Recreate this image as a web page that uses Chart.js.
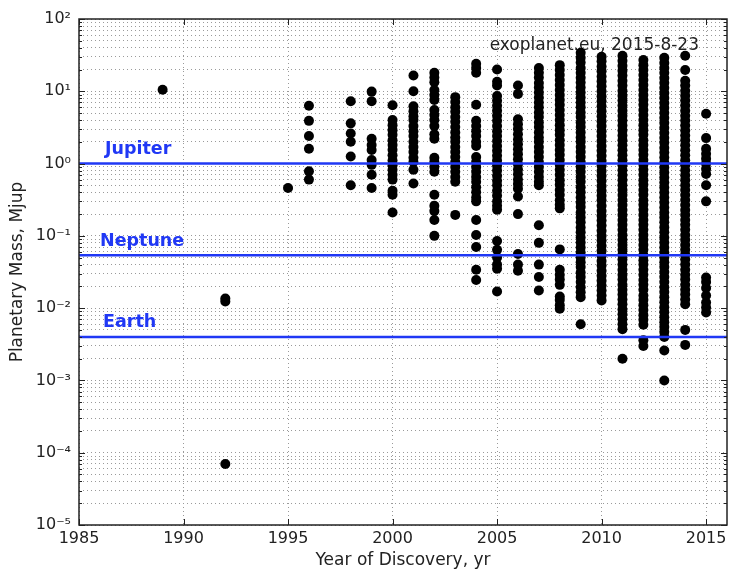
<!DOCTYPE html>
<html>
<head>
<meta charset="utf-8">
<script src="https://cdn.jsdelivr.net/npm/chart.js@4.4.1/dist/chart.umd.min.js"></script>
<style>
  html, body { margin: 0; padding: 0; background: #fff; }
  #wrap { width: 732px; height: 580px; }
</style>
</head>
<body>
<div id="wrap"><canvas id="exo" width="732" height="580"></canvas></div>
<script>
// Planet masses (Mjup) per discovery year
const mass1989 = [10.5];
const mass1992 = [0.0136, 0.0124, 0.00007];
const mass1995 = [0.46];
const mass1996 = [6.3, 3.9, 2.4, 1.6, 0.78, 0.6];
const mass1998 = [7.3, 3.6, 2.6, 2.0, 1.25, 0.5];
const mass1999 = [9.9, 7.3, 2.2, 1.8, 1.54, 1.12, 0.96, 0.7, 0.46];
const mass2000 = [6.4, 4.0, 3.4, 2.9, 2.5, 2.1, 1.8, 1.55, 1.3, 1.1, 0.95, 0.82, 0.7, 0.6, 0.42, 0.37, 0.21];
const mass2001 = [16.5, 10, 6.2, 5.3, 4.5, 4.0, 3.3, 2.8, 2.4, 2.0, 1.7, 1.45, 1.2, 1.05, 0.82, 0.53];
const mass2002 = [18, 15.5, 13.3, 10.4, 8.9, 7.6, 5.5, 4.7, 4.0, 3.3, 2.55, 2.2, 1.2, 1.05, 0.9, 0.77, 0.37, 0.26, 0.22, 0.166, 0.1];
const mass2003 = [8.3, 7.1, 6.0, 5.2, 4.4, 3.8, 3.2, 2.7, 2.3, 2.0, 1.7, 1.45, 1.23, 1.05, 0.9, 0.77, 0.65, 0.56, 0.195];
const mass2004 = [24, 21, 18, 6.5, 3.9, 3.3, 2.8, 2.4, 2.0, 1.75, 1.23, 1.05, 0.9, 0.77, 0.65, 0.56, 0.47, 0.4, 0.34, 0.3, 0.166, 0.103, 0.07, 0.034, 0.0245];
const mass2005 = [20, 13.5, 12, 8.6, 7.4, 6.3, 5.4, 4.6, 3.9, 3.3, 2.8, 2.4, 2.05, 1.75, 1.5, 1.28, 1.1, 0.93, 0.8, 0.68, 0.58, 0.5, 0.42, 0.36, 0.3, 0.26, 0.23, 0.085, 0.064, 0.05, 0.04, 0.035, 0.017];
const mass2006 = [12, 9.2, 4.1, 3.5, 3.0, 2.55, 2.15, 1.85, 1.58, 1.35, 1.15, 0.98, 0.83, 0.71, 0.6, 0.52, 0.45, 0.35, 0.2, 0.056, 0.04, 0.033];
const mass2007 = [21, 18, 15.5, 13, 11.3, 9.6, 8.2, 7.0, 6.0, 5.1, 4.4, 3.7, 3.2, 2.7, 2.3, 2.0, 1.7, 1.45, 1.23, 1.05, 0.9, 0.77, 0.65, 0.56, 0.5, 0.14, 0.08, 0.04, 0.027, 0.0175];
const mass2008 = [23, 19.7, 16.8, 14.3, 12.2, 10.4, 8.9, 7.6, 6.5, 5.5, 4.7, 4.0, 3.4, 2.9, 2.5, 2.1, 1.8, 1.54, 1.32, 1.12, 0.96, 0.82, 0.7, 0.59, 0.51, 0.43, 0.37, 0.31, 0.27, 0.24, 0.065, 0.034, 0.029, 0.025, 0.021, 0.0145, 0.013, 0.011, 0.0098];
const mass2009 = [34, 29, 25, 21, 18, 15.4, 13.2, 11.3, 9.6, 8.2, 7.0, 6.0, 5.1, 4.4, 3.7, 3.2, 2.7, 2.3, 2.0, 1.7, 1.45, 1.23, 1.05, 0.9, 0.77, 0.65, 0.56, 0.47, 0.4, 0.34, 0.29, 0.25, 0.21, 0.18, 0.154, 0.13, 0.112, 0.095, 0.081, 0.069, 0.059, 0.05, 0.043, 0.037, 0.031, 0.027, 0.023, 0.0195, 0.0166, 0.0142, 0.006];
const mass2010 = [30, 26, 22, 19, 16, 13.7, 11.7, 10, 8.5, 7.3, 6.2, 5.3, 4.5, 3.85, 3.3, 2.8, 2.4, 2.05, 1.75, 1.5, 1.28, 1.09, 0.93, 0.79, 0.68, 0.58, 0.49, 0.42, 0.36, 0.31, 0.26, 0.22, 0.19, 0.163, 0.139, 0.118, 0.1, 0.086, 0.073, 0.062, 0.053, 0.045, 0.039, 0.033, 0.028, 0.024, 0.0205, 0.0175, 0.015, 0.0128];
const mass2011 = [31, 26.5, 22.6, 19.3, 16.5, 14, 12, 10.2, 8.7, 7.45, 6.35, 5.4, 4.6, 3.95, 3.37, 2.87, 2.45, 2.1, 1.79, 1.53, 1.3, 1.11, 0.95, 0.81, 0.69, 0.59, 0.5, 0.43, 0.367, 0.313, 0.267, 0.228, 0.195, 0.166, 0.142, 0.121, 0.103, 0.088, 0.075, 0.064, 0.055, 0.047, 0.04, 0.034, 0.029, 0.025, 0.021, 0.018, 0.0155, 0.0132, 0.0113, 0.0096, 0.0082, 0.007, 0.006, 0.0051, 0.002];
const mass2012 = [27, 23, 19.7, 16.8, 14.3, 12.2, 10.4, 8.9, 7.6, 6.5, 5.5, 4.7, 4.0, 3.4, 2.9, 2.5, 2.1, 1.8, 1.54, 1.32, 1.12, 0.96, 0.82, 0.7, 0.59, 0.51, 0.43, 0.37, 0.31, 0.27, 0.23, 0.195, 0.166, 0.142, 0.121, 0.103, 0.088, 0.075, 0.064, 0.054, 0.046, 0.04, 0.034, 0.029, 0.0245, 0.021, 0.018, 0.015, 0.013, 0.011, 0.0094, 0.008, 0.0069, 0.0059, 0.0036, 0.003];
const mass2013 = [29, 24.7, 21, 18, 15.3, 13.1, 11.2, 9.5, 8.1, 6.9, 5.9, 5.05, 4.3, 3.67, 3.13, 2.67, 2.28, 1.95, 1.66, 1.42, 1.21, 1.03, 0.88, 0.75, 0.64, 0.546, 0.466, 0.398, 0.34, 0.29, 0.247, 0.211, 0.18, 0.154, 0.131, 0.112, 0.095, 0.081, 0.069, 0.059, 0.05, 0.043, 0.037, 0.0315, 0.027, 0.023, 0.0195, 0.0167, 0.0142, 0.0121, 0.0103, 0.0088, 0.0075, 0.0064, 0.0055, 0.0047, 0.004, 0.0026, 0.001];
const mass2014 = [31, 19.7, 14, 12, 10.2, 8.7, 7.45, 6.35, 5.4, 4.6, 3.95, 3.37, 2.87, 2.45, 2.1, 1.79, 1.53, 1.3, 1.11, 0.95, 0.81, 0.69, 0.59, 0.5, 0.43, 0.367, 0.313, 0.267, 0.228, 0.195, 0.166, 0.142, 0.121, 0.103, 0.088, 0.075, 0.064, 0.055, 0.047, 0.04, 0.034, 0.029, 0.025, 0.021, 0.018, 0.0155, 0.0132, 0.0113, 0.005, 0.0031];
const mass2015 = [4.9, 2.25, 1.6, 1.37, 1.17, 1.0, 0.85, 0.72, 0.5, 0.3, 0.0265, 0.023, 0.019, 0.015, 0.012, 0.0102, 0.0087];

const discoveryYears = [1989, 1992, 1995, 1996, 1998, 1999, 2000, 2001, 2002, 2003, 2004, 2005, 2006, 2007, 2008, 2009, 2010, 2011, 2012, 2013, 2014, 2015];
const massColumns = [mass1989, mass1992, mass1995, mass1996, mass1998, mass1999, mass2000, mass2001, mass2002, mass2003, mass2004, mass2005, mass2006, mass2007, mass2008, mass2009, mass2010, mass2011, mass2012, mass2013, mass2014, mass2015];

// reference planets
const refNames = ['Jupiter', 'Neptune', 'Earth'];
const refMasses = [1, 0.054, 0.004];

// axes
const xTicks = [1985, 1990, 1995, 2000, 2005, 2010, 2015];
const yMajorExps = [-5, -4, -3, -2, -1, 0, 1, 2];
const yMinorSteps = [2, 3, 4, 5, 6, 7, 8, 9];
const sourceNote = 'exoplanet.eu, 2015-8-23';

const BLUE = 'rgb(32,56,245)';
const FONT = '"DejaVu Sans", Verdana, sans-serif';

const planetPoints = [];
massColumns.forEach((col, i) => {
    col.forEach(m => planetPoints.push({ x: discoveryYears[i], y: m }));
});

const yTickValues = [];
yMajorExps.forEach(e => {
    yTickValues.push(Math.pow(10, e));
    if (e < 2) yMinorSteps.forEach(s => yTickValues.push(s * Math.pow(10, e)));
});

const SUP = { '-': '\u207B', '0': '\u2070', '1': '\u00B9', '2': '\u00B2', '3': '\u00B3', '4': '\u2074', '5': '\u2075' };
function powerLabel(v) {
    const e = Math.round(Math.log10(v));
    if (Math.abs(v - Math.pow(10, e)) > Math.pow(10, e) * 1e-6) return '';
    return '10' + String(e).split('').map(c => SUP[c]).join('');
}
function isPower(v) { return powerLabel(v) !== ''; }

// frame, inward ticks, annotations
const decorations = {
    id: 'decorations',
    beforeDatasetsDraw(chart) {
        const { ctx, chartArea: a } = chart;
        ctx.save();
        ctx.font = '17px ' + FONT;
        ctx.fillStyle = '#222';
        ctx.textAlign = 'right';
        ctx.textBaseline = 'middle';
        ctx.fillText(sourceNote, a.right - 28, a.top + 27);
        ctx.restore();
    },
    afterDatasetsDraw(chart) {
        const { ctx, chartArea: a, scales: { x, y } } = chart;
        ctx.save();
        ctx.font = 'bold 17.5px ' + FONT;
        ctx.fillStyle = BLUE;
        ctx.textAlign = 'left';
        ctx.textBaseline = 'middle';
        const offs = [26, 21, 24];
        refNames.forEach((name, i) => {
            ctx.fillText(name, a.left + offs[i], y.getPixelForValue(refMasses[i]) - 14);
        });

        ctx.strokeStyle = '#222';
        ctx.lineWidth = 1;
        ctx.beginPath();
        y.ticks.forEach(t => {
            const py = Math.round(y.getPixelForValue(t.value)) + 0.5;
            const len = isPower(t.value) ? 6 : 3;
            ctx.moveTo(a.left, py); ctx.lineTo(a.left + len, py);
            ctx.moveTo(a.right, py); ctx.lineTo(a.right - len, py);
        });
        x.ticks.forEach(t => {
            const px = Math.round(x.getPixelForValue(t.value)) + 0.5;
            ctx.moveTo(px, a.bottom); ctx.lineTo(px, a.bottom - 6);
            ctx.moveTo(px, a.top); ctx.lineTo(px, a.top + 6);
        });
        ctx.stroke();

        ctx.lineWidth = 1.5;
        ctx.strokeRect(a.left, a.top, a.right - a.left, a.bottom - a.top);
        ctx.restore();
    }
};

const refDatasets = refMasses.map(m => ({
    type: 'line',
    data: [{ x: xTicks[0], y: m }, { x: 2016, y: m }],
    borderColor: BLUE,
    borderWidth: 2.5,
    pointRadius: 0,
    fill: false
}));

new Chart(document.getElementById('exo'), {
    type: 'scatter',
    data: {
        datasets: [
            ...refDatasets,
            {
                data: planetPoints,
                pointRadius: 5,
                pointBackgroundColor: '#000',
                pointBorderWidth: 0
            }
        ]
    },
    options: {
        responsive: false,
        animation: false,
        events: [],
        devicePixelRatio: 1,
        layout: { padding: { top: 19, right: 2, left: 0, bottom: 0 } },
        plugins: { legend: { display: false }, tooltip: { enabled: false } },
        scales: {
            x: {
                type: 'linear',
                min: 1985,
                max: 2016,
                afterBuildTicks: s => { s.ticks = xTicks.map(v => ({ value: v })); },
                afterFit: s => { s.height = 55; },
                ticks: {
                    callback: v => String(v),
                    color: '#222',
                    font: { family: FONT, size: 16 },
                    padding: 4,
                    autoSkip: false,
                    maxRotation: 0
                },
                grid: { color: '#9a9a9a', lineWidth: 1, drawTicks: false },
                border: { display: false, dash: [1, 3] },
                title: {
                    display: true,
                    text: 'Year of Discovery, yr',
                    color: '#222',
                    font: { family: FONT, size: 17 },
                    padding: { top: 0, bottom: 9 }
                }
            },
            y: {
                type: 'logarithmic',
                min: 1e-5,
                max: 100,
                afterBuildTicks: s => { s.ticks = yTickValues.map(v => ({ value: v })); },
                afterFit: s => { s.width = 79; },
                ticks: {
                    callback: v => powerLabel(v),
                    color: '#222',
                    font: { family: FONT, size: 16 },
                    padding: 8,
                    autoSkip: false
                },
                grid: { color: '#9a9a9a', lineWidth: 1, drawTicks: false },
                border: { display: false, dash: [1, 3] },
                title: {
                    display: true,
                    text: 'Planetary Mass, Mjup',
                    color: '#222',
                    font: { family: FONT, size: 17 },
                    padding: { top: 7, bottom: 0 }
                }
            }
        }
    },
    plugins: [decorations]
});
</script>
</body>
</html>
